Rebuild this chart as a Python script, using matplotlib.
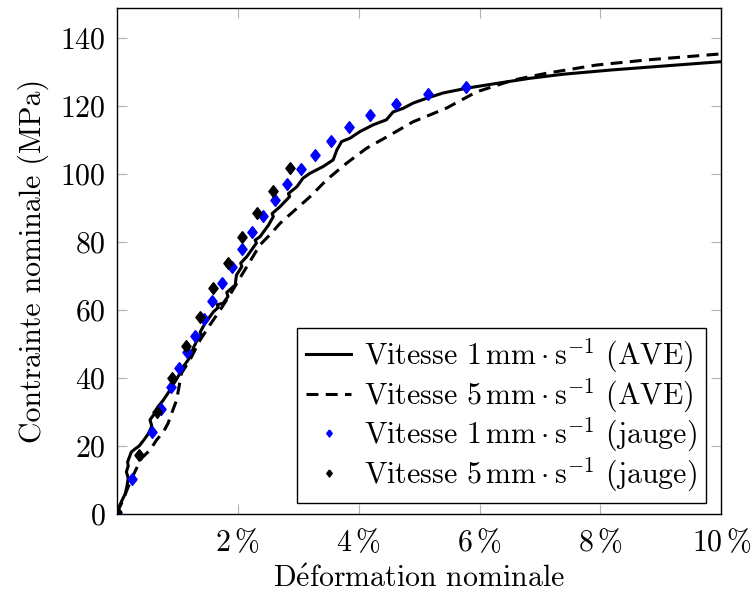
import matplotlib
matplotlib.use("Agg")
import matplotlib.pyplot as plt

plt.rcParams['font.family'] = ['cmr10', 'DejaVu Serif']
plt.rcParams['mathtext.fontset'] = 'cm'
plt.rcParams['axes.formatter.use_mathtext'] = True
plt.rcParams['font.size'] = 21.5

# deformation (%) / contrainte (MPa)
ave1_x = [0, 0.04, 0.09, 0.14, 0.17, 0.19, 0.16, 0.19, 0.18, 0.24, 0.30, 0.37, 0.45, 0.53,
          0.58, 0.55, 0.62, 0.68, 0.77, 0.85, 0.92, 0.98, 1.05, 1.11, 1.18, 1.22, 1.27,
          1.35, 1.40, 1.38, 1.46, 1.60, 1.68, 1.66, 1.76, 1.84, 1.82, 1.96, 1.98, 2.07,
          2.05, 2.15, 2.31, 2.29, 2.37, 2.51, 2.59, 2.57, 2.70, 2.86, 2.84, 2.98, 3.08,
          3.20, 3.41, 3.58, 3.64, 3.72, 3.86, 4.02, 4.24, 4.46, 4.57, 4.74, 4.90, 5.12,
          5.40, 5.79, 6.28, 6.83, 7.38, 8.21, 9.03, 10.0]
ave1_y = [0.3, 2.1, 4.1, 5.9, 8.2, 10.6, 12.4, 14.1, 15.3, 18.2, 19.1, 20.0, 21.8, 23.8,
          25.9, 27.7, 29.4, 31.5, 33.5, 35.6, 37.7, 39.4, 41.5, 43.6, 45.3, 46.5, 49.0,
          51.8, 52.8, 53.5, 56.1, 59.5, 60.8, 61.6, 62.0, 64.0, 65.2, 67.4, 70.3, 72.8,
          73.8, 75.7, 79.7, 80.6, 81.6, 85.0, 87.5, 88.4, 90.4, 93.4, 94.3, 96.3, 98.8,
          100.3, 102.2, 104.2, 107.1, 109.6, 110.6, 112.5, 114.5, 116.0, 118.3, 119.4,
          120.9, 122.3, 123.9, 125.3, 126.7, 128.2, 129.4, 130.7, 131.8, 133.1]

ave5_x = [0, 0.09, 0.17, 0.25, 0.41, 0.55, 0.66, 0.77, 0.85, 0.91, 0.99, 1.03, 1.07, 1.21,
          1.38, 1.54, 1.71, 1.87, 2.04, 2.20, 2.37, 2.53, 2.70, 2.92, 3.20, 3.47, 3.80,
          4.13, 4.52, 4.90, 5.45, 5.95, 6.56, 7.11, 7.93, 8.76, 9.59, 10.0]
ave5_y = [0.3, 3.5, 7.1, 10.6, 16.4, 18.8, 21.8, 24.1, 26.7, 29.7, 33.5, 37.4, 41.4, 45.3,
          51.2, 55.6, 60.0, 64.4, 69.5, 74.2, 79.2, 82.1, 85.5, 89.0, 93.4, 98.3, 103.2,
          107.6, 111.5, 115.4, 119.4, 124.2, 127.7, 129.7, 132.1, 133.6, 134.8, 135.4]

jauge1_x = [0, 0.25, 0.58, 0.74, 0.90, 1.03, 1.17, 1.30, 1.44, 1.58, 1.74, 1.91, 2.07,
            2.24, 2.42, 2.62, 2.82, 3.04, 3.28, 3.54, 3.84, 4.19, 4.62, 5.14, 5.78]
jauge1_y = [0, 10.2, 24.2, 30.9, 37.3, 43.1, 47.8, 52.5, 57.4, 62.8, 68.0, 72.8, 77.9,
            82.9, 87.6, 92.3, 97.1, 101.5, 105.6, 109.9, 113.8, 117.4, 120.7, 123.5, 125.7]

jauge5_x = [0, 0.37, 0.67, 0.91, 1.15, 1.38, 1.60, 1.84, 2.07, 2.32, 2.59, 2.86]
jauge5_y = [0.6, 17.5, 30.0, 39.9, 49.5, 58.1, 66.4, 73.8, 81.4, 88.5, 95.1, 101.7]

x_ticks = [2, 4, 6, 8, 10]
y_ticks = [0, 20, 40, 60, 80, 100, 120, 140]

labels = [r"Vitesse $1\,\mathrm{mm}\cdot\mathrm{s}^{-1}$ (AVE)",
          r"Vitesse $5\,\mathrm{mm}\cdot\mathrm{s}^{-1}$ (AVE)",
          r"Vitesse $1\,\mathrm{mm}\cdot\mathrm{s}^{-1}$ (jauge)",
          r"Vitesse $5\,\mathrm{mm}\cdot\mathrm{s}^{-1}$ (jauge)"]

diamond = [(0, 1), (0.78, 0), (0, -1), (-0.78, 0), (0, 1)]

fig = plt.figure(figsize=(7.53, 5.94), dpi=100)
ax = fig.add_axes([0.155, 0.1347, 0.803, 0.8513])

ax.plot(ave1_x, ave1_y, color='black', lw=2.2, label=labels[0], zorder=3)
ax.plot(ave5_x, ave5_y, color='black', lw=2.2, ls=(0, (3.9, 2.4)), label=labels[1], zorder=3)
ax.plot(jauge1_x, jauge1_y, ls='none', marker=diamond, ms=8.5, color='blue', mec='blue',
        label=labels[2], zorder=4)
ax.plot(jauge5_x, jauge5_y, ls='none', marker=diamond, ms=8.5, color='black', mec='black',
        label=labels[3], zorder=4)

ax.set_xlim(0, 10)
ax.set_ylim(0, 148.8)
ax.set_xticks(x_ticks)
ax.set_xticklabels([rf"${t}\,\%$" for t in x_ticks])
ax.set_yticks(y_ticks)
ax.tick_params(direction='in', length=7.5, width=0.8, color='0.7', top=True, right=True)
ax.tick_params(axis='x', pad=10)
ax.tick_params(axis='y', pad=8)
for s in ax.spines.values():
    s.set_linewidth(1.0)
    s.set_color('black')

ax.set_xlabel(r"D$\acute{\mathrm{e}}$formation nominale", labelpad=6)
ax.set_ylabel("Contrainte nominale (MPa)", labelpad=8)

leg = ax.legend(loc='lower right', bbox_to_anchor=(0.975, 0.022), borderaxespad=0,
                fancybox=False, edgecolor='black', framealpha=1, handlelength=1.5,
                handletextpad=0.45, labelspacing=0.05, borderpad=0.3, markerscale=0.6)
leg.get_frame().set_linewidth(1.0)

fig.savefig("out.png", dpi=100)
